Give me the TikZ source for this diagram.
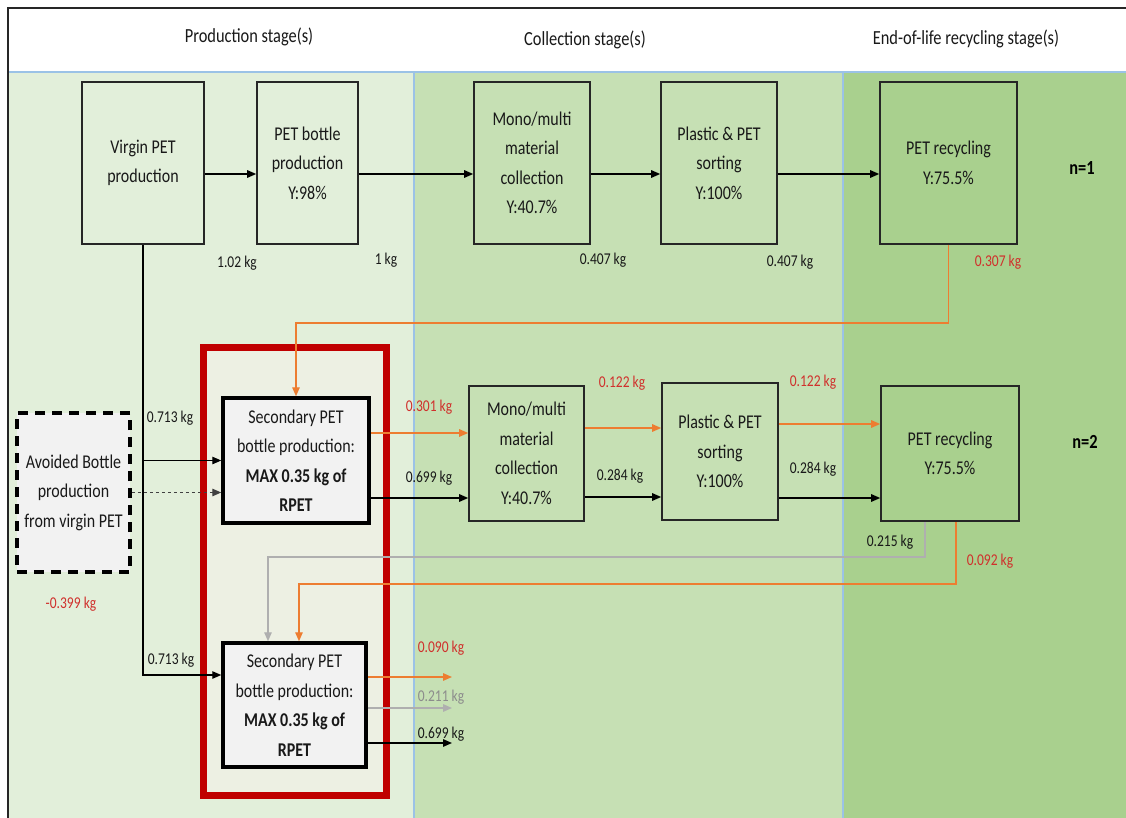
\documentclass[tikz,border=0pt]{standalone}
\usepackage{fontspec}
\setmainfont{Carlito}[FakeStretch=0.82]
\usetikzlibrary{arrows.meta}
\definecolor{bgA}{RGB}{226,239,218}
\definecolor{bgB}{RGB}{198,224,180}
\definecolor{bgC}{RGB}{169,208,142}
\definecolor{sep}{RGB}{155,194,230}
\definecolor{frameRed}{RGB}{192,0,0}
\definecolor{frameFill}{RGB}{237,240,227}
\definecolor{boxFill}{RGB}{242,242,242}
\definecolor{flowOrange}{RGB}{237,125,49}
\definecolor{flowGray}{RGB}{175,175,175}
\definecolor{txtRed}{RGB}{208,48,44}
\definecolor{txtGray}{RGB}{140,140,140}
\begin{document}
\begin{tikzpicture}[x=1pt,y=-1pt,
  boxtxt/.style={font=\fontsize{19.5}{29.5}\selectfont, align=center, text=black!90},
  proc/.style={boxtxt, draw=black!85, line width=1.6pt, inner sep=0pt},
  secbox/.style={boxtxt, draw=black, line width=3.5pt, fill=boxFill, inner sep=0pt},
  avoidbox/.style={boxtxt, draw=black, line width=3.5pt, dash pattern=on 10pt off 7pt, fill=boxFill, inner sep=0pt},
  qty/.style={font=\fontsize{16.5}{19}\selectfont, inner sep=0pt, text=black!90},
  qtyred/.style={qty, text=txtRed},
  qtygray/.style={qty, text=txtGray},
  header/.style={font=\fontsize{20}{24}\selectfont, text=black!90},
  iter/.style={font=\bfseries\fontsize{20}{24}\selectfont},
  flow/.style={line width=1.4pt, -{Triangle[length=9pt,width=7.5pt]}},
  oflow/.style={flow, draw=flowOrange},
  gflow/.style={flow, draw=flowGray},
  dflow/.style={flow, draw=black!75, dash pattern=on 3pt off 3pt}
]
\useasboundingbox (0,0) rectangle (1126,818);

% stage columns and header
\fill[white] (0,0) rectangle (1126,818);
\fill[bgA] (8,72) rectangle (414,818);
\fill[bgB] (414,72) rectangle (843,818);
\fill[bgC] (843,72) rectangle (1126,818);
\draw[sep, line width=2pt] (8,72) -- (1126,72);
\draw[sep, line width=2pt] (414,72) -- (414,818);
\draw[sep, line width=2pt] (843,72) -- (843,818);
\draw[black!85, line width=2pt] (8,818) -- (8,8) -- (1126,8);

\node[header] (hProd) at (249,37) {Production stage(s)};
\node[header] (hColl) at (585,40) {Collection stage(s)};
\node[header] (hEol) at (966,39) {End-of-life recycling stage(s)};

% highlighted secondary production block
\draw[frameRed, fill=frameFill, line width=7pt] (203.5,347.5) rectangle (386,795);

% first cycle (n=1)
\node[proc, minimum width=122pt, minimum height=162pt] (vpet) at (143,163) {Virgin PET\\production};
\node[proc, minimum width=101pt, minimum height=162pt] (petb) at (307.5,163) {PET bottle\\production\\Y:98\%};
\node[proc, minimum width=116pt, minimum height=162pt] (coll1) at (532,163) {Mono/multi\\material\\collection\\Y:40.7\%};
\node[proc, minimum width=116pt, minimum height=162pt] (sort1) at (719,163) {Plastic \& PET\\sorting\\Y:100\%};
\node[proc, minimum width=137pt, minimum height=162pt] (rec1) at (948.5,163) {PET recycling\\Y:75.5\%};
\node[iter] (n1) at (1082,168) {n=1};

% second cycle (n=2)
\node[avoidbox, minimum width=113pt, minimum height=159pt] (avoid) at (73.5,492.5) {Avoided Bottle\\production\\from virgin PET};
\node[secbox, minimum width=146pt, minimum height=125pt] (sec1) at (296,460.5) {Secondary PET\\bottle production:\\\textbf{MAX 0.35 kg of}\\\textbf{RPET}};
\node[proc, minimum width=115pt, minimum height=135pt] (coll2) at (526.5,453.5) {Mono/multi\\material\\collection\\Y:40.7\%};
\node[proc, minimum width=116pt, minimum height=137pt] (sort2) at (720,451.5) {Plastic \& PET\\sorting\\Y:100\%};
\node[proc, minimum width=138pt, minimum height=135pt] (rec2) at (950,453.5) {PET recycling\\Y:75.5\%};
\node[iter] (n2) at (1085,442) {n=2};

\node[secbox, minimum width=143pt, minimum height=124pt] (sec2) at (294.5,705) {Secondary PET\\bottle production:\\\textbf{MAX 0.35 kg of}\\\textbf{RPET}};

% flows of the first cycle
\draw[flow] ([yshift=-11pt]vpet.east) -- ([yshift=-11pt]petb.west);
\draw[flow] ([yshift=-11pt]petb.east) -- ([yshift=-11pt]coll1.west);
\draw[flow] ([yshift=-11pt]coll1.east) -- ([yshift=-11pt]sort1.west);
\draw[flow] ([yshift=-11pt]sort1.east) -- ([yshift=-11pt]rec1.west);

% virgin PET feeding the secondary production steps
\draw[flow, line width=1.1pt] (vpet.south) |- ([yshift=30pt]sec2.west);
\draw[flow, line width=1.1pt] (vpet.south |- sec1.west) -- (sec1.west);
\draw[dflow] (avoid.east) -- (avoid.east -| sec1.west);

% recycled PET returned to production
\draw[oflow] (rec1.south) -- ++(0,78) -| (sec1.north);

% flows of the second cycle
\coordinate (o1) at ([yshift=27.5pt]sec1.east);
\coordinate (b1) at ([yshift=-37.5pt]sec1.east);
\draw[oflow] (o1) -- (o1 -| coll2.west);
\draw[flow] (b1) -- (b1 -| coll2.west);
\coordinate (o2) at ([yshift=25.5pt]coll2.east);
\coordinate (b2) at ([yshift=-43.5pt]coll2.east);
\draw[oflow] (o2) -- (o2 -| sort2.west);
\draw[flow] (b2) -- (b2 -| sort2.west);
\coordinate (o3) at ([yshift=27.5pt]sort2.east);
\coordinate (b3) at ([yshift=-46.5pt]sort2.east);
\draw[oflow] (o3) -- (o3 -| rec2.west);
\draw[flow] (b3) -- (b3 -| rec2.west);

% second-cycle returns
\draw[gflow] ([xshift=-25pt]rec2.south) -- ++(0,35) -| ([xshift=-26.5pt]sec2.north);
\draw[oflow] ([xshift=6pt]rec2.south) -- ++(0,62) -| ([xshift=4.5pt]sec2.north);

% outputs of the last secondary production
\coordinate (eo) at (452,677);
\coordinate (eg) at (452,708);
\coordinate (eb) at (452,743);
\draw[oflow] (sec2.east |- eo) -- (eo);
\draw[gflow] (sec2.east |- eg) -- (eg);
\draw[flow] (sec2.east |- eb) -- (eb);

% quantities
\node[qty] (q1) at (237,263) {1.02 kg};
\node[qty] (q2) at (386,260) {1 kg};
\node[qty] (q3) at (603,260) {0.407 kg};
\node[qty] (q4) at (790,262) {0.407 kg};
\node[qtyred] (q5) at (998,262) {0.307 kg};
\node[qty] (q6) at (170,418) {0.713 kg};
\node[qty] (q7) at (171,660) {0.713 kg};
\node[qtyred] (q8) at (429,407) {0.301 kg};
\node[qty] (q9) at (429,478) {0.699 kg};
\node[qtyred] (q10) at (622,383) {0.122 kg};
\node[qty] (q11) at (620,476) {0.284 kg};
\node[qtyred] (q12) at (813,382) {0.122 kg};
\node[qty] (q13) at (813,469) {0.284 kg};
\node[qty] (q14) at (890,542) {0.215 kg};
\node[qtyred] (q15) at (990,561) {0.092 kg};
\node[qtyred] (q16) at (71,604) {-0.399 kg};
\node[qtyred] (q17) at (441,648) {0.090 kg};
\node[qtygray] (q18) at (441,697) {0.211 kg};
\node[qty] (q19) at (441,734) {0.699 kg};
\end{tikzpicture}
\end{document}
